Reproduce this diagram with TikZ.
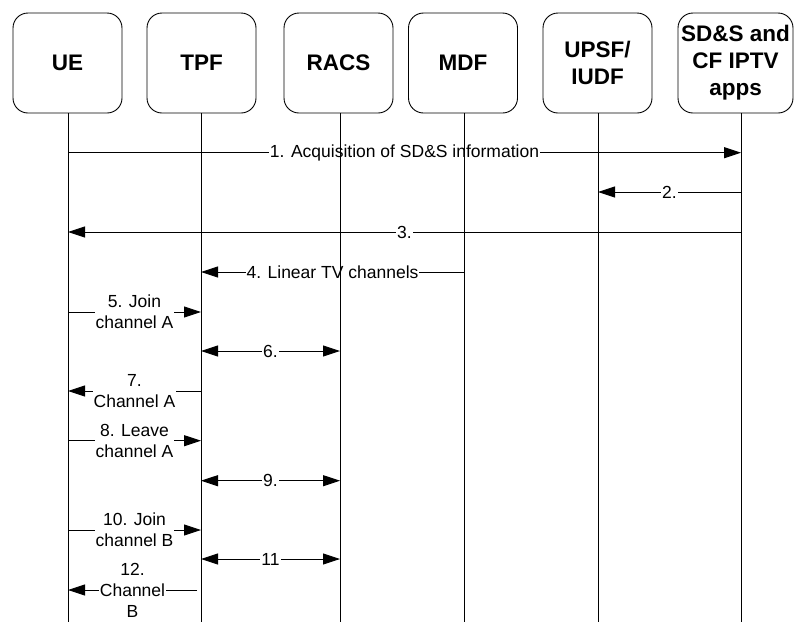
\documentclass[tikz,border=0pt]{standalone}
\usepackage{fontspec}
\setmainfont{Liberation Sans}
\usetikzlibrary{arrows.meta}
\begin{document}
\begin{tikzpicture}[x=1pt,y=-1pt,
  entity/.style={draw, line width=0.9pt, rounded corners=15pt, minimum width=109pt, minimum height=100pt, align=center, font=\fontsize{22.5}{27}\selectfont\bfseries, inner sep=0pt},
  msg/.style={line width=0.9pt, -{Triangle[length=17pt,width=11pt]}},
  bimsg/.style={line width=0.9pt, {Triangle[length=17pt,width=11pt]}-{Triangle[length=17pt,width=11pt]}},
  lbl/.style={fill=white, inner sep=1pt, align=center, font=\fontsize{17.5}{21}\selectfont},
  life/.style={line width=0.9pt}]
\useasboundingbox (0,0) rectangle (794,622);

% entities
\node[entity] (ue) at (67.5,63) {UE};
\node[entity] (tpf) at (201.5,63) {TPF};
\node[entity] (racs) at (338.5,63) {RACS};
\node[entity] (mdf) at (463,63) {MDF};
\node[entity] (upsf) at (597.5,63) {UPSF/\\IUDF};
\node[entity, minimum width=115pt] (sds) at (735.5,63) {SD\&S and\\CF IPTV\\apps};

% lifeline coordinates
\coordinate (ueT) at (68,113);   \coordinate (ueB) at (68,622);
\coordinate (tpfT) at (201,113); \coordinate (tpfB) at (201,622);
\coordinate (racsT) at (340,113);\coordinate (racsB) at (340,622);
\coordinate (mdfT) at (464,113); \coordinate (mdfB) at (464,622);
\coordinate (upsfT) at (598,113);\coordinate (upsfB) at (598,622);
\coordinate (sdsT) at (741,113); \coordinate (sdsB) at (741,622);

% messages
\draw[msg] (ueT |- 0,152.7) -- node[lbl] {1. Acquisition of SD\&S information} (sdsT |- 0,152.7);
\draw[msg] (sdsT |- 0,192) -- node[lbl] {2.} (upsfT |- 0,192);
\draw[msg] (sdsT |- 0,232) -- node[lbl] {3.} (ueT |- 0,232);
\draw[msg] (mdfT |- 0,272) -- node[lbl] {4. Linear TV channels} (tpfT |- 0,272);
\draw[msg] (ueT |- 0,312) -- node[lbl] {5. Join\\channel A} (tpfT |- 0,312);
\draw[bimsg] (tpfT |- 0,351) -- node[lbl] {6.} (racsT |- 0,351);
\draw[msg] (tpfT |- 0,391) -- node[lbl] {7.\\Channel A} (ueT |- 0,391);
\draw[msg] (ueT |- 0,440.7) -- node[lbl] {8. Leave\\channel A} (tpfT |- 0,440.7);
\draw[bimsg] (tpfT |- 0,480.7) -- node[lbl] {9.} (racsT |- 0,480.7);
\draw[msg] (ueT |- 0,530) -- node[lbl] {10. Join\\channel B} (tpfT |- 0,530);
\draw[bimsg] (tpfT |- 0,559) -- node[lbl] {11} (racsT |- 0,559);
\draw[msg] ([xshift=-4pt]tpfT |- 0,590) -- node[lbl] {12.\\Channel\\B} (ueT |- 0,590);

% lifelines (drawn on top of labels)
\draw[life] (ueT) -- (ueB);
\draw[life] (tpfT) -- (tpfB);
\draw[life] (racsT) -- (racsB);
\draw[life] (mdfT) -- (mdfB);
\draw[life] (upsfT) -- (upsfB);
\draw[life] (sdsT) -- (sdsB);
\end{tikzpicture}
\end{document}
